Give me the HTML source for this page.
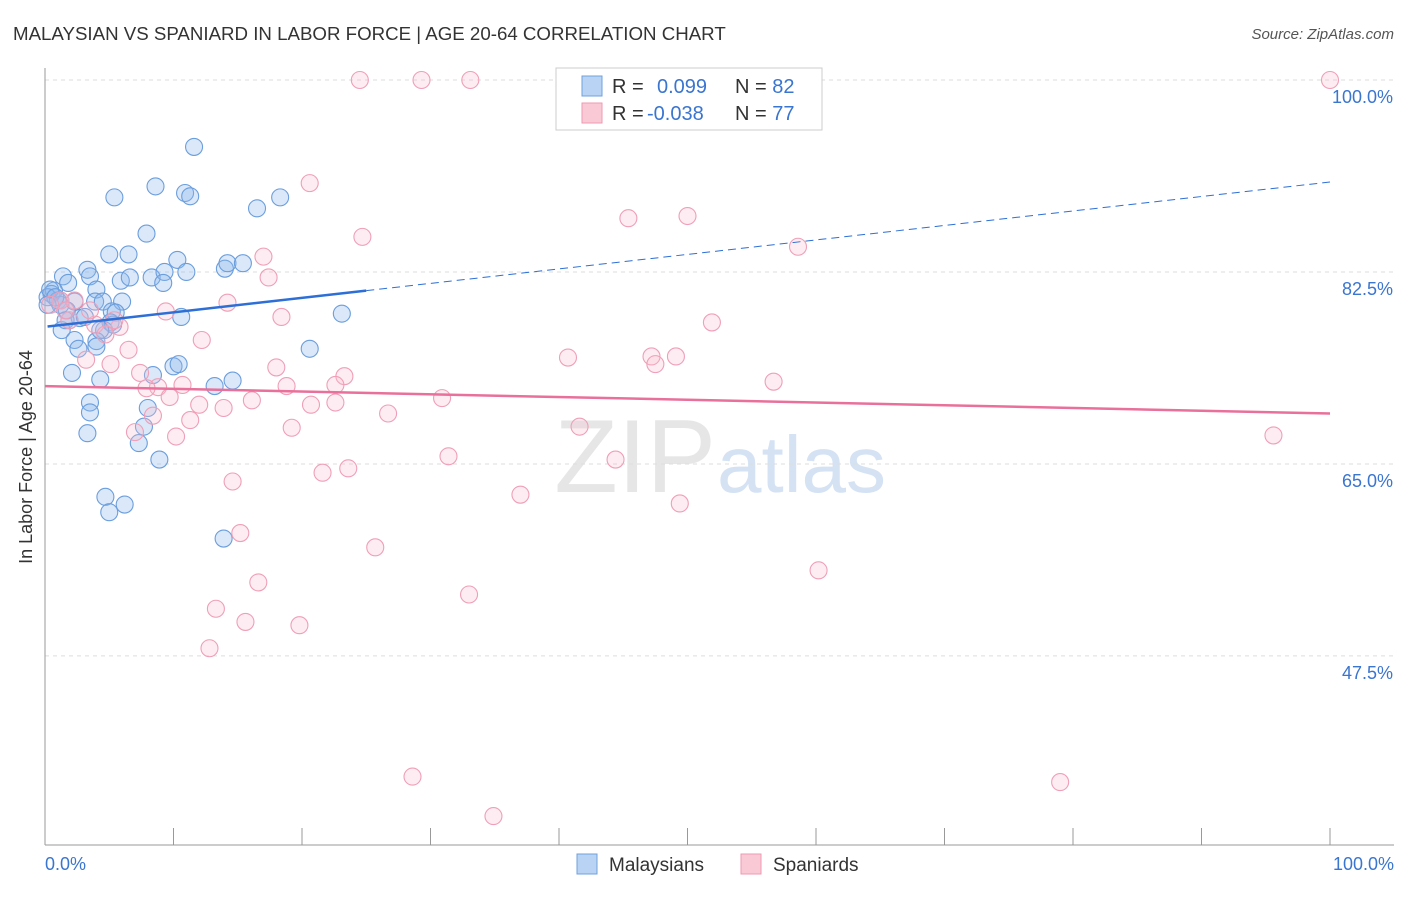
<!DOCTYPE html>
<html><head><meta charset="utf-8"><style>
body{margin:0;background:#fff;font-family:"Liberation Sans",sans-serif;}
svg text{font-family:"Liberation Sans",sans-serif;}
</style></head><body>
<svg id="chart" width="1406" height="892" viewBox="0 0 1406 892" xmlns="http://www.w3.org/2000/svg">
<text x="13" y="40" font-size="18.7" fill="#333">MALAYSIAN VS SPANIARD IN LABOR FORCE | AGE 20-64 CORRELATION CHART</text>
<text x="1394" y="39" font-size="15" fill="#555" font-style="italic" text-anchor="end">Source: ZipAtlas.com</text>
<text x="32" y="457" font-size="18" fill="#333" text-anchor="middle" transform="rotate(-90 32 457)">In Labor Force | Age 20-64</text>
<text x="716" y="492" font-size="104" fill="#e6e6e6" text-anchor="end" font-family="Liberation Serif">ZIP</text>
<text x="717" y="492" font-size="80" fill="#d4e2f4">atlas</text>
<g id="grid"></g><g id="axes"></g><g id="pts"></g><g id="lines"></g>
<rect x="556" y="68" width="266" height="62" fill="#fff" stroke="#ccc"/>
<rect x="582" y="76" width="20" height="20" fill="#b8d3f3" stroke="#6fa0de"/>
<rect x="582" y="103" width="20" height="20" fill="#f9c9d6" stroke="#ee9ab3"/>
<text x="612" y="93" font-size="20" fill="#333">R = <tspan x="657" fill="#3a75d0">0.099</tspan><tspan x="735" fill="#333">N = </tspan><tspan fill="#3a75d0">82</tspan></text>
<text x="612" y="120" font-size="20" fill="#333">R = <tspan x="647" fill="#3a75d0">-0.038</tspan><tspan x="735" fill="#333">N = </tspan><tspan fill="#3a75d0">77</tspan></text>
<rect x="577" y="854" width="20" height="20" fill="#b8d3f3" stroke="#6fa0de"/>
<text x="609" y="871" font-size="19" fill="#333">Malaysians</text>
<rect x="741" y="854" width="20" height="20" fill="#f9c9d6" stroke="#ee9ab3"/>
<text x="773" y="871" font-size="19" fill="#333">Spaniards</text>
</svg>
<script>
const yTicks=[100,82.5,65,47.5];
const yTickLabels=["100.0%","82.5%","65.0%","47.5%"];
const xEndLabels=["0.0%","100.0%"];
const blueX=[11.6,8.6,5.4,10.9,11.3,16.5,18.3,7.9,5.0,6.5,10.3,1.4,3.3,3.5,5.9,6.6,8.3,9.3,11.0,9.2,14.0,14.2,15.4,1.8,0.7,0.5,0.2,1.0,2.3,4.0,3.9,4.5,6.0,1.2,1.7,2.7,5.2,5.5,5.1,5.3,1.6,1.3,4.6,10.6,23.1,2.3,2.6,4.0,4.0,20.6,10.0,10.4,2.1,4.3,8.4,13.2,14.6,3.5,3.5,3.3,8.0,7.7,7.3,8.9,4.7,5.0,6.2,13.9,0.4,0.8,1.2,0.2,1.9,3.1,4.3];
const blueY=[93.9,90.3,89.3,89.7,89.4,88.3,89.3,86.0,84.1,84.1,83.6,82.1,82.7,82.1,81.7,82.0,82.0,82.5,82.5,81.5,82.8,83.3,83.3,81.5,80.8,80.5,80.2,79.9,79.8,80.9,79.8,79.8,79.8,79.5,79.0,78.3,78.9,78.8,77.9,77.7,78.1,77.2,77.2,78.4,78.7,76.3,75.5,76.2,75.7,75.5,73.9,74.1,73.3,72.7,73.1,72.1,72.6,70.6,69.7,67.8,70.1,68.4,66.9,65.4,62.0,60.6,61.3,58.2,80.9,80.2,79.9,79.5,78.1,78.4,77.2];
const pinkX=[24.5,29.3,33.1,100,20.6,24.7,45.4,50.0,58.6,17.0,17.4,14.2,9.4,18.4,51.9,12.2,6.5,40.7,47.2,49.1,47.5,5.1,7.4,18.0,23.3,56.7,8.8,10.7,18.8,22.6,7.9,9.7,12.0,13.9,16.1,20.7,22.6,26.7,30.9,8.4,11.3,10.2,7.0,19.2,41.6,95.6,31.4,44.4,23.6,21.6,14.6,37.0,49.4,15.2,25.7,60.2,16.6,33.0,13.3,15.6,19.8,12.8,28.6,79.0,34.9,3.2,1.2,1.9,3.9,5.8,4.7,3.5,0.4,2.3,5.4,1.6];
const pinkY=[100,100,100,100,90.6,85.7,87.4,87.6,84.8,83.9,82.0,79.7,78.9,78.4,77.9,76.3,75.4,74.7,74.8,74.8,74.1,74.1,73.3,73.8,73.0,72.5,72.0,72.2,72.1,72.2,71.9,71.1,70.4,70.1,70.8,70.4,70.6,69.6,71.0,69.4,69.0,67.5,67.9,68.3,68.4,67.6,65.7,65.4,64.6,64.2,63.4,62.2,61.4,58.7,57.4,55.3,54.2,53.1,51.8,50.6,50.3,48.2,36.5,36.0,32.9,74.5,79.9,78.1,77.7,77.5,76.8,79.0,79.5,79.9,78.1,79.0];
const blueTrend=[77.5,90.7];
const pinkTrend=[72.1,69.6];
const NS="http://www.w3.org/2000/svg";
const X=v=>45+v*12.85, Y=v=>80+(100-v)*10.97;
function mk(tag,attrs,parent){const e=document.createElementNS(NS,tag);for(const k in attrs)e.setAttribute(k,attrs[k]);parent.appendChild(e);return e;}
const grid=document.getElementById('grid'),axes=document.getElementById('axes'),pts=document.getElementById('pts'),lines=document.getElementById('lines');
yTicks.forEach((t,i)=>{
  const l=mk('line',{x1:45,x2:1394,y1:Y(t),y2:Y(t),stroke:'#ddd','stroke-dasharray':'4,4'},grid);
  
  
  const tx=mk('text',{x:1393,y:Y(t)+23,'font-size':18,fill:'#3a75d0','text-anchor':'end'},grid);
  tx.textContent=yTickLabels[i];
  
  
});
const ax=mk('line',{x1:45,x2:45,y1:68,y2:845,stroke:'#999'},axes);


const bx=mk('line',{x1:45,x2:1394,y1:845,y2:845,stroke:'#999'},axes);


for(let i=1;i<=10;i++){
  const t=mk('line',{x1:X(i*10),x2:X(i*10),y1:828,y2:845,stroke:'#999'},axes);
  
  
}
[[0,'start',45],[100,'end',1394]].forEach((d,i)=>{
  const t=mk('text',{x:d[2],y:870,'font-size':18,fill:'#3a75d0','text-anchor':d[1]},axes);
  t.textContent=xEndLabels[i];
  
  
});
blueX.forEach((x,i)=>{
  const c=mk('circle',{cx:X(x),cy:Y(blueY[i]),r:8.5,fill:'rgba(140,184,236,0.32)',stroke:'#6b9edd','stroke-width':1.1},pts);
  
  
});
pinkX.forEach((x,i)=>{
  const c=mk('circle',{cx:X(x),cy:Y(pinkY[i]),r:8.5,fill:'rgba(248,190,208,0.28)',stroke:'#ef9fb7','stroke-width':1.1},pts);
  
  
});
const by=x=>blueTrend[0]+(blueTrend[1]-blueTrend[0])*x/100;
const b1=mk('line',{x1:X(0.2),y1:Y(by(0.2)),x2:X(25),y2:Y(by(25)),stroke:'#2d6fd6','stroke-width':2.5},lines);


const b2=mk('line',{x1:X(25),y1:Y(by(25)),x2:X(100),y2:Y(by(100)),stroke:'#2d6fd6','stroke-width':1,'stroke-dasharray':'8,5'},lines);


const p1=mk('line',{x1:X(0),y1:Y(pinkTrend[0]),x2:X(100),y2:Y(pinkTrend[1]),stroke:'#e8709a','stroke-width':2.5},lines);


</script>
</body></html>
